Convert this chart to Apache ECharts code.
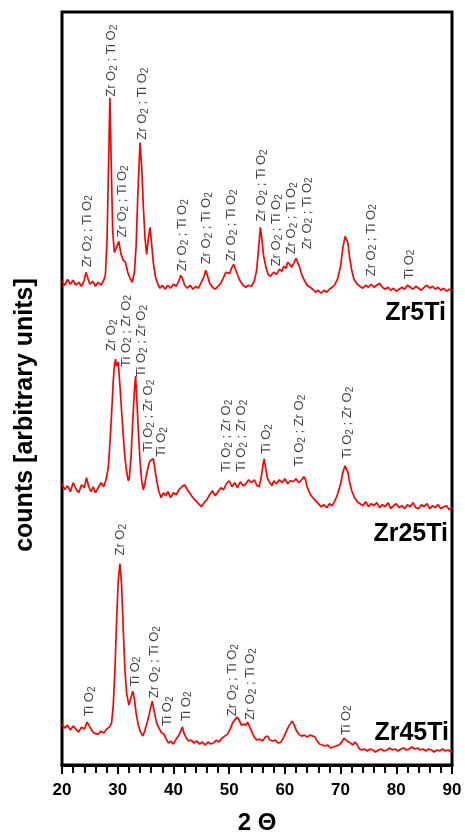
<!DOCTYPE html>
<html>
<head>
<meta charset="utf-8">
<style>
  html, body { margin: 0; padding: 0; background: #fff; }
  #main { width: 465px; height: 840px; }
</style>
<script src="https://cdn.jsdelivr.net/npm/echarts@6/dist/echarts.min.js"></script>
</head>
<body>
<div id="main"></div>
<script>
// x = 2 theta (deg), y = counts (arbitrary, traces stacked with offsets)
var zr5Ti = [[20,485],[20.5,481],[21,487],[21.5,482],[22,486],[22.5,481],[23,484],[23.5,480],[24,486],[24.3,494],[24.7,487],[25,482],[25.5,485],[26,480],[26.5,484],[27,481],[27.5,486],[27.8,492],[28.1,530],[28.35,600],[28.6,669],[28.85,600],[29.1,535],[29.4,514],[29.7,518],[30.2,525],[30.6,512],[31,506],[31.4,504],[31.8,494],[32.2,488],[32.6,484],[33,494],[33.3,520],[33.6,570],[34,624],[34.3,600],[34.6,560],[34.9,528],[35.2,512],[35.5,528],[35.8,539],[36.1,522],[36.4,503],[36.8,489],[37.2,482],[37.6,478],[38,481],[38.5,477],[39,481],[39.5,478],[40,482],[40.5,480],[41,486],[41.3,491],[41.7,487],[42,481],[42.5,478],[43,481],[43.5,477],[44,480],[44.5,478],[45,484],[45.5,490],[45.8,496],[46.2,489],[46.5,483],[47,479],[47.5,477],[48,480],[48.5,483],[49,489],[49.4,494],[49.7,496],[50.1,493],[50.5,499],[50.8,502],[51.2,496],[51.6,490],[52,485],[52.5,481],[53,479],[53.5,481],[54,480],[54.5,485],[54.9,495],[55.2,512],[55.6,539],[55.9,526],[56.2,510],[56.6,499],[57,492],[57.4,490],[58,494],[58.5,492],[59,497],[59.5,495],[59.8,500],[60.2,498],[60.5,504],[60.9,502],[61.2,499],[61.6,503],[62,508],[62.2,510],[62.6,500],[63,492],[63.5,486],[64,481],[64.5,479],[65,477],[65.5,474],[66,476],[66.5,473],[67,476],[67.5,474],[68,477],[68.5,479],[69,482],[69.5,488],[70,500],[70.4,518],[70.8,530],[71,532],[71.3,524],[71.6,510],[72,496],[72.4,487],[73,482],[73.5,480],[74,478],[74.5,481],[75,479],[75.5,482],[76,479],[76.5,481],[77,483],[77.5,479],[78,477],[78.5,479],[79,476],[79.5,478],[80,475],[80.5,477],[81,479],[81.5,477],[82,481],[82.5,479],[83,477],[83.5,480],[84,478],[84.5,476],[85,479],[85.5,481],[86,478],[86.5,480],[87,477],[87.5,479],[88,476],[88.5,478],[89,475],[89.5,477],[90,476]];

var zr25Ti = [[20,282],[20.5,276],[21,280],[21.5,274],[22,283],[22.5,277],[23,273],[23.5,281],[24,278],[24.4,288],[24.8,279],[25.2,274],[25.6,279],[26,273],[26.5,278],[27,283],[27.5,279],[27.9,286],[28.3,298],[28.6,322],[28.9,352],[29.2,385],[29.4,400],[29.6,407],[29.8,400],[30.1,404],[30.4,380],[30.7,355],[31,330],[31.3,308],[31.6,294],[31.9,285],[32.1,288],[32.4,310],[32.7,345],[33,376],[33.2,390],[33.4,370],[33.7,335],[34,305],[34.3,285],[34.6,276],[34.9,283],[35.2,292],[35.5,300],[35.8,305],[36.1,303],[36.4,307],[36.7,296],[37,285],[37.4,274],[37.8,268],[38.2,273],[38.6,270],[39,274],[39.5,268],[40,273],[40.5,271],[41,276],[41.5,279],[42,281],[42.5,276],[43,272],[43.5,268],[44,265],[44.5,262],[45,259],[45.5,263],[46,266],[46.5,271],[47,275],[47.5,270],[48,274],[48.5,278],[49,276],[49.5,282],[50,285],[50.5,279],[51,283],[51.5,278],[52,284],[52.5,280],[53,282],[53.5,286],[54,283],[54.5,286],[55,280],[55.4,279],[55.8,290],[56.1,302],[56.3,307],[56.6,296],[56.9,287],[57.3,283],[57.7,280],[58,285],[58.5,282],[59,286],[59.5,283],[60,287],[60.5,282],[61,285],[61.5,284],[62,287],[62.5,283],[63,286],[63.4,289],[63.7,286],[64,279],[64.5,272],[65,268],[65.5,265],[66,262],[66.5,259],[67,261],[67.5,258],[68,262],[68.5,260],[69,265],[69.5,272],[70,282],[70.4,293],[70.8,300],[71,301],[71.3,294],[71.6,284],[72,275],[72.5,268],[73,264],[73.5,262],[74,260],[74.5,264],[75,259],[75.5,262],[76,260],[76.5,263],[77,258],[77.5,261],[78,259],[78.5,263],[79,257],[79.5,260],[80,262],[80.5,258],[81,260],[81.5,257],[82,261],[82.5,259],[83,263],[83.5,258],[84,257],[84.5,261],[85,259],[85.5,262],[86,257],[86.5,260],[87,258],[87.5,261],[88,257],[88.5,259],[89,260],[89.5,256],[90,258]];

var zr45Ti = [[20,41],[20.5,37],[21,40],[21.5,35],[22,39],[22.5,36],[23,33],[23.5,38],[24,36],[24.5,43],[24.9,39],[25.3,35],[25.7,32],[26,34],[26.5,31],[27,34],[27.5,32],[28,36],[28.5,38],[28.9,42],[29.2,60],[29.5,95],[29.8,145],[30.1,185],[30.4,202],[30.7,180],[31,135],[31.3,95],[31.6,72],[32,60],[32.4,68],[32.7,74],[33,66],[33.3,52],[33.7,40],[34.1,33],[34.5,29],[34.9,35],[35.3,43],[35.7,52],[36.2,64],[36.6,52],[37,42],[37.5,36],[37.9,32],[38.3,31],[38.7,26],[39.1,22],[39.5,24],[40,21],[40.5,26],[41,30],[41.3,34],[41.6,38],[41.9,32],[42.3,27],[42.7,24],[43.2,25],[43.7,22],[44.2,24],[44.7,21],[45.2,23],[45.7,20],[46.2,23],[46.7,21],[47.2,22],[47.7,25],[48.2,23],[48.7,27],[49.2,29],[49.7,31],[50.2,36],[50.6,42],[51,45],[51.4,48],[51.8,45],[52.2,40],[52.6,41],[53,40],[53.3,43],[53.7,38],[54.1,33],[54.5,28],[55,25],[55.5,26],[56,24],[56.5,28],[56.9,29],[57.3,25],[57.8,24],[58.3,25],[58.8,22],[59.3,23],[59.8,28],[60.2,33],[60.7,39],[61.3,44],[61.7,40],[62.1,34],[62.5,31],[63,29],[63.5,30],[64,28],[64.5,30],[65,29],[65.4,28],[65.8,24],[66.2,21],[66.7,20],[67.2,19],[67.7,20],[68.2,17],[68.7,18],[69.2,19],[69.7,20],[70.2,23],[70.6,27],[71,25],[71.4,23],[71.8,22],[72.2,20],[72.6,23],[73,20],[73.4,16],[73.8,15],[74.3,16],[74.8,14],[75.3,16],[75.8,15],[76.3,13],[76.8,15],[77.3,16],[77.8,14],[78.3,15],[78.8,17],[79.3,15],[79.8,16],[80.3,14],[80.8,16],[81.3,17],[81.8,15],[82.3,16],[82.8,18],[83.3,16],[83.8,17],[84.3,15],[84.8,16],[85.3,14],[85.8,16],[86.3,15],[86.8,13],[87.3,15],[87.8,14],[88.3,16],[88.8,14],[89.3,15],[89.8,13],[90,14]];

// peak labels: [2 theta, height where the text starts, text]
var zr5Labels = [
  [24.5, 499, 'Zr O2 ; Ti O2'], [28.95, 670, 'Zr O2 ; Ti O2'], [30.9, 529, 'Zr O2 ; Ti O2'],
  [34.5, 627, 'Zr O2 ; Ti O2'], [41.7, 495, 'Zr O2 ; Ti O2'], [46.0, 502, 'Zr O2 ; Ti O2'],
  [50.4, 505, 'Zr O2 ; Ti O2'], [55.8, 545, 'Zr O2 ; Ti O2'], [58.5, 500, 'Zr O2 ; Ti O2'],
  [61.2, 512, 'Zr O2 ; Ti O2'], [64.0, 517, 'Zr O2 ; Ti O2'], [75.5, 490, 'Zr O2 ; Ti O2'],
  [82.3, 487, 'Ti O2']
];
var zr25Labels = [
  [28.9, 415, 'Zr O2'], [31.5, 399, 'Ti O2 ; Zr O2'], [34.3, 389, 'Ti O2 ; Zr O2'],
  [35.6, 314, 'Ti O2 ; Zr O2'], [37.9, 309, 'Ti O2'], [49.5, 294, 'Ti O2 ; Zr O2'],
  [52.2, 294, 'Ti O2 ; Zr O2'], [56.7, 312, 'Ti O2'], [62.6, 299, 'Ti O2 ; Zr O2'],
  [71.2, 307, 'Ti O2 ; Zr O2']
];
var zr45Labels = [
  [24.9, 49, 'Ti O2'], [30.5, 210, 'Zr O2'], [33.1, 79, 'Ti O2'],
  [36.6, 67, 'Zr O2 ; Ti O2'], [39.0, 39, 'Ti O2'], [42.3, 44, 'Ti O2'],
  [50.6, 49, 'Zr O2 ; Ti O2'], [53.8, 45, 'Zr O2 ; Ti O2'], [71.0, 30, 'Ti O2']
];
var sampleNames = ['Zr5Ti', 'Zr25Ti', 'Zr45Ti'];

var myChart = echarts.init(document.getElementById('main'));

function lineSeries(data) {
  return {
    type: 'line', data: data, symbol: 'none', silent: true,
    lineStyle: { color: '#ff0000', width: 1.7 }
  };
}
function labelSeries(data) {
  return {
    type: 'scatter', data: data, symbolSize: 0, silent: true,
    label: {
      show: true, position: [0, 0], rotate: 90, align: 'left', verticalAlign: 'middle',
      fontFamily: 'Liberation Sans', fontSize: 13, lineHeight: 15, color: '#111',
      formatter: function (p) { return p.data[2].replace(/O2/g, 'O{s|2}'); },
      rich: { s: { fontSize: 10, lineHeight: 9, verticalAlign: 'bottom', color: '#111', fontFamily: 'Liberation Sans' } }
    }
  };
}

var option = {
  animation: false,
  backgroundColor: '#fff',
  grid: { left: 62, right: 13, top: 12, bottom: 73, show: true, borderColor: '#000', borderWidth: 3 },
  xAxis: {
    type: 'value', min: 20, max: 90, interval: 10,
    name: '2 Θ', nameLocation: 'middle', nameGap: 46,
    nameTextStyle: { fontFamily: 'Liberation Sans', fontWeight: 'bold', fontSize: 24, color: '#000' },
    axisLine: { lineStyle: { color: '#000', width: 3 } },
    axisTick: { length: 9, lineStyle: { color: '#000', width: 2 } },
    minorTick: { show: true, splitNumber: 5, length: 8, lineStyle: { color: '#000', width: 2 } },
    splitLine: { show: false },
    axisLabel: { margin: 17, fontFamily: 'Liberation Sans', fontWeight: 'bold', fontSize: 17, color: '#000' }
  },
  yAxis: { type: 'value', min: 0, max: 755, show: false },
  graphic: [
    { type: 'text', x: 25, y: 415, rotation: Math.PI / 2,
      style: { text: 'counts [arbitrary units]', fill: '#000', textAlign: 'center', textVerticalAlign: 'middle',
               font: 'bold 25px "Liberation Sans"' } },
    { type: 'text', x: 446, y: 313, style: { text: sampleNames[0], fill: '#000', textAlign: 'right', textVerticalAlign: 'middle', font: 'bold 25px "Liberation Sans"' } },
    { type: 'text', x: 448, y: 534, style: { text: sampleNames[1], fill: '#000', textAlign: 'right', textVerticalAlign: 'middle', font: 'bold 25px "Liberation Sans"' } },
    { type: 'text', x: 449, y: 733, style: { text: sampleNames[2], fill: '#000', textAlign: 'right', textVerticalAlign: 'middle', font: 'bold 25px "Liberation Sans"' } }
  ],
  series: [
    lineSeries(zr5Ti), lineSeries(zr25Ti), lineSeries(zr45Ti),
    labelSeries(zr5Labels), labelSeries(zr25Labels), labelSeries(zr45Labels)
  ]
};
myChart.setOption(option);
window.addEventListener('resize', function () { myChart.resize(); });
</script>
</body>
</html>
